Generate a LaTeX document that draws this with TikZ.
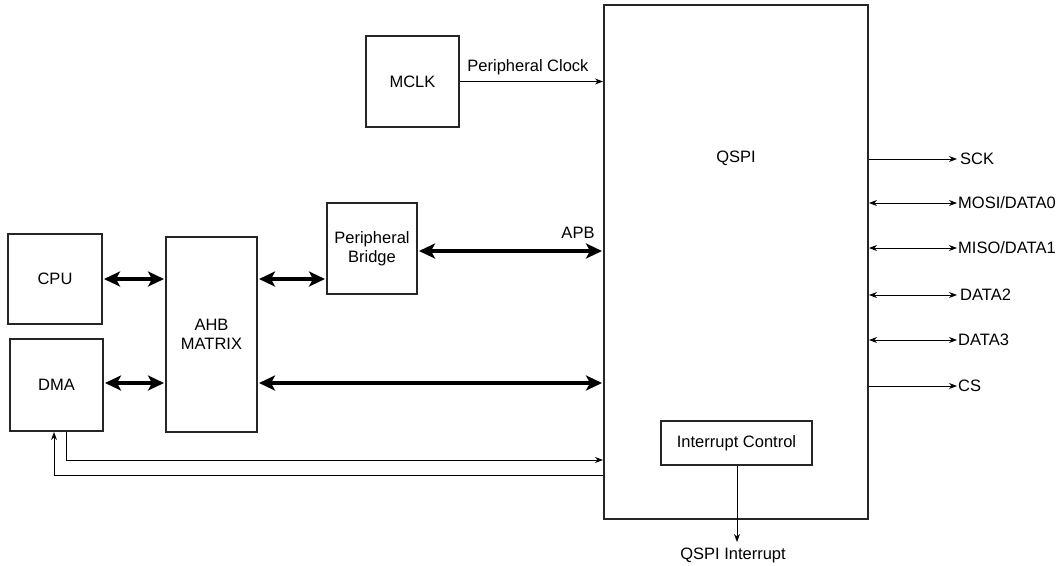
\documentclass[tikz,border=0pt]{standalone}
\usepackage{fontspec}
\setmainfont{Liberation Sans}
\usetikzlibrary{arrows.meta,calc}
\begin{document}
\begin{tikzpicture}[x=1pt,y=-1pt,
  every node/.style={font=\fontsize{16.5}{19}\selectfont},
  blk/.style={draw=black!85,line width=2pt,inner sep=0pt,align=center},
  bus/.style={line width=3.4pt,{Stealth[length=16pt,width=15pt,inset=4pt]}-{Stealth[length=16pt,width=15pt,inset=4pt]},shorten <=1pt,shorten >=1pt},
  sig/.style={line width=0.9pt,-{Stealth[length=8pt,width=6pt]}},
  bisig/.style={line width=0.9pt,{Stealth[length=8pt,width=6pt]}-{Stealth[length=8pt,width=6pt]}},
  lbl/.style={inner sep=1pt}]
\useasboundingbox (0,0) rectangle (1063,565);
% blocks
\node[blk,minimum width=94pt,minimum height=90pt] (cpu) at (55,279) {CPU};
\node[blk,minimum width=93pt,minimum height=92pt] (dma) at (56.5,385) {DMA};
\node[blk,minimum width=91pt,minimum height=195pt] (ahb) at (211.5,334.5) {AHB\\MATRIX};
\node[blk,minimum width=90pt,minimum height=91pt] (bridge) at (372,248.5) {Peripheral\\Bridge};
\node[blk,minimum width=93pt,minimum height=91pt] (mclk) at (412.5,81.5) {MCLK};
\node[blk,minimum width=264pt,minimum height=514pt] (qspi) at (736,262) {};
\node at (736,158) {QSPI};
\node[blk,fill=white,minimum width=151pt,minimum height=44pt] (irq) at (736.5,443) {Interrupt Control};
% coordinates
\coordinate (yb1) at (0,279);
\coordinate (yapb) at (0,251);
\coordinate (ybus) at (0,383);
% buses
\draw[bus] (cpu.east) -- (ahb.west |- cpu.east);
\draw[bus] (dma.east |- ybus) -- (ahb.west |- ybus);
\draw[bus] (ahb.east |- yb1) -- (bridge.west |- yb1);
\draw[bus] (bridge.east |- yapb) -- (qspi.west |- yapb);
\node[lbl] (apb) at (578,233) {APB};
\draw[bus] (ahb.east |- ybus) -- (qspi.west |- ybus);
% clock
\draw[sig] (mclk.east) -- (qspi.west |- mclk.east);
\node[lbl] (pclk) at (528,67) {Peripheral Clock};
% DMA request lines
\coordinate (d1) at (66,460);
\coordinate (d2) at (54,475);
\draw[sig] (dma.south -| d1) -- (d1) -- (qspi.west |- d1);
\draw[sig] (qspi.west |- d2) -- (d2) -- (dma.south -| d2);
% interrupt
\coordinate (iq) at (737,542);
\node[lbl] (qirq) at (733,555) {QSPI Interrupt};
\draw[sig] (irq.south -| iq) -- (iq);
% right signals
\foreach \nm/\y in {sck/159, cs/386}{
  \coordinate (e\nm) at (957,\y);
  \draw[sig] (qspi.east |- e\nm) -- (e\nm);
}
\foreach \nm/\y in {mosi/203, miso/248, dtwo/295, dthree/340}{
  \coordinate (e\nm) at (957,\y);
  \draw[bisig] (qspi.east |- e\nm) -- (e\nm);
}
\node[lbl,anchor=west] (lsck) at ([xshift=2pt]esck) {SCK};
\node[lbl,anchor=west] (lmosi) at (emosi) {MOSI/DATA0};
\node[lbl,anchor=west] (lmiso) at (emiso) {MISO/DATA1};
\node[lbl,anchor=west] (ld2) at ([xshift=2pt]edtwo) {DATA2};
\node[lbl,anchor=west] (ld3) at (edthree) {DATA3};
\node[lbl,anchor=west] (lcs) at (ecs) {CS};
\end{tikzpicture}
\end{document}
